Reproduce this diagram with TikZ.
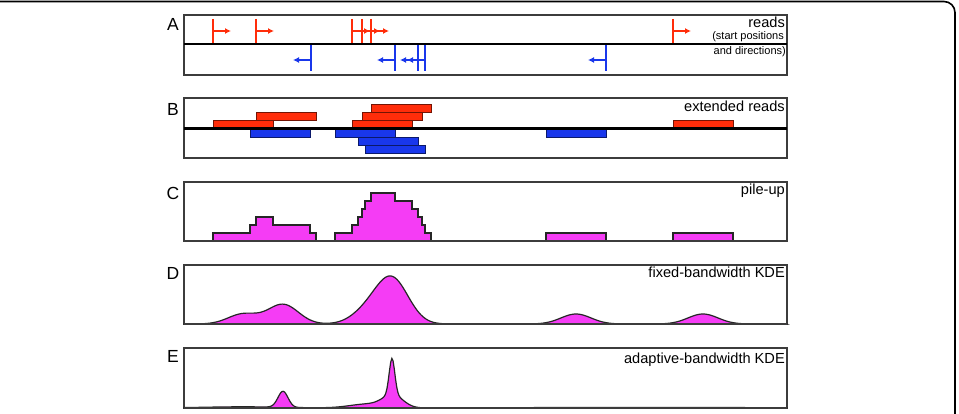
\documentclass[tikz,border=0pt]{standalone}
\usepackage{fontspec}
\setmainfont{Liberation Sans}
\usetikzlibrary{arrows.meta}
\definecolor{rdred}{RGB}{255,45,10}
\definecolor{rdblue}{RGB}{25,55,235}
\definecolor{pile}{RGB}{245,60,245}
\definecolor{framegray}{RGB}{60,60,60}
\begin{document}
\begin{tikzpicture}[x=1pt,y=-1pt,
  panel/.style={draw=framegray,line width=1.4pt},
  axisline/.style={draw=black,line width=2.4pt},
  fread/.style={fill=rdred,draw=black!55!rdred,line width=0.9pt},
  rread/.style={fill=rdblue,draw=black!55!rdblue,line width=0.9pt},
  ftick/.style={draw=rdred,line width=2.6pt},
  rtick/.style={draw=rdblue,line width=2.6pt},
  farrow/.style={draw=rdred,line width=1.6pt,-{Latex[length=6pt,width=6pt]}},
  rarrow/.style={draw=rdblue,line width=1.6pt,-{Latex[length=6pt,width=6pt]}},
  pileup/.style={fill=pile,draw=black!85,line width=1.2pt},
  lbl/.style={inner sep=0pt,font=\fontsize{17.5}{18}\selectfont,text=black},
  ttl/.style={inner sep=0pt,font=\fontsize{14.6}{15}\selectfont,text=black},
  smalltxt/.style={inner sep=0pt,font=\fontsize{11}{12}\selectfont,text=black},
  declare function={
    uu(\x,\c,\s)=min(6,abs((\x-\c)/\s));
    gg(\x,\c,\s)=exp(-0.5*uu(\x,\c,\s)*uu(\x,\c,\s));
    fkde(\x)=gg(\x,243,15)+gg(\x,286,15)+gg(\x,382,15)+gg(\x,392,15)+gg(\x,401,15)+gg(\x,703,15)
            +gg(\x,280,15)+gg(\x,365,15)+gg(\x,388,15)+gg(\x,395,15)+gg(\x,576,15);
    akde(\x)=16*gg(\x,283,5)+1.2*gg(\x,243,40)+36*gg(\x,392,2.8)+12*gg(\x,393,10)
            +4*gg(\x,368,18)+0.5*gg(\x,576,60)+0.5*gg(\x,703,60);
  }]
\clip (0,0) rectangle (959,414);
\fill[white] (0,0) rectangle (959,414);
% outer frame
\draw[line width=1.6pt,rounded corners=11pt] (-30,1.5) -- (955,1.5) -- (955,440);

% ---------- panel A ----------
\draw[panel] (184,15) rectangle (787,75);
\foreach \f in {213,256,352,362,371,673}{
  \draw[farrow] (\f,31) -- (\f+18,31);
  \draw[ftick] (\f,19) -- (\f,43);
}
\foreach \r in {311,395,418,425,606}{
  \draw[rarrow] (\r,60) -- (\r-18,60);
  \draw[rtick] (\r,45) -- (\r,71);
}
\draw[axisline] (184,44) -- (787,44);
\node[lbl,anchor=north] (la) at (173,18) {A};
\node[ttl,anchor=base east] (ta) at (785,28) {reads};
\node[smalltxt,anchor=base east] (ta2) at (784,40) {(start positions};
\node[smalltxt,anchor=base east] (ta3) at (786,55) {and directions)};

% ---------- panel B ----------
\draw[panel] (184,98) rectangle (787,158);
\draw[fread] (213,120) rectangle (273,128);
\draw[fread] (256,112) rectangle (316,120);
\draw[fread] (352,120) rectangle (412,128);
\draw[fread] (362,112) rectangle (422,120);
\draw[fread] (371,104) rectangle (431,112);
\draw[fread] (673,120) rectangle (733,128);
\draw[rread] (250,129) rectangle (310,137);
\draw[rread] (335,129) rectangle (395,137);
\draw[rread] (358,137) rectangle (418,145);
\draw[rread] (365,145) rectangle (425,153);
\draw[rread] (546,129) rectangle (606,137);
\draw[axisline] (184,128.5) -- (787,128.5);
\node[lbl,anchor=north] (lb) at (173,103) {B};
\node[ttl,anchor=base east] (tb) at (785,112) {extended reads};

% ---------- panel C ----------
\draw[panel] (184,182) rectangle (787,241);
\draw[pileup] (213,241) -- (213,233) -- (250,233) -- (250,225) -- (256,225) -- (256,217)
  -- (273,217) -- (273,225) -- (310,225) -- (310,233) -- (316,233) -- (316,241) -- cycle;
\draw[pileup] (335,241) -- (335,233) -- (352,233) -- (352,225) -- (358,225) -- (358,217)
  -- (362,217) -- (362,209) -- (365,209) -- (365,201) -- (371,201) -- (371,193)
  -- (395,193) -- (395,201) -- (412,201) -- (412,209) -- (418,209) -- (418,217)
  -- (422,217) -- (422,225) -- (425,225) -- (425,233) -- (431,233) -- (431,241) -- cycle;
\draw[pileup] (546,241) rectangle (606,233);
\draw[pileup] (673,241) rectangle (733,233);
\draw[panel] (184,241) -- (787,241);
\node[lbl,anchor=north] (lc) at (173,187) {C};
\node[ttl,anchor=base east] (tc) at (785,195) {pile-up};

% ---------- panel D ----------
\draw[panel] (184,265) rectangle (787,324);
\draw[pileup] (184,324) -- plot[domain=184:787,samples=350] (\x,{324-10*fkde(\x)}) -- (787,324) -- cycle;
\draw[panel] (184,324) -- (787,324);
\node[lbl,anchor=north] (ld) at (173,267) {D};
\node[ttl,anchor=base east] (td) at (785,278) {fixed-bandwidth KDE};

% ---------- panel E ----------
\draw[panel] (184,348) rectangle (787,408);
\draw[pileup] (184,408) -- plot[domain=184:787,samples=500] (\x,{408-akde(\x)}) -- (787,408) -- cycle;
\draw[panel] (184,408) -- (787,408);
\node[lbl,anchor=north] (le) at (173,350) {E};
\node[ttl,anchor=base east] (te) at (785,363) {adaptive-bandwidth KDE};
\end{tikzpicture}
\end{document}
